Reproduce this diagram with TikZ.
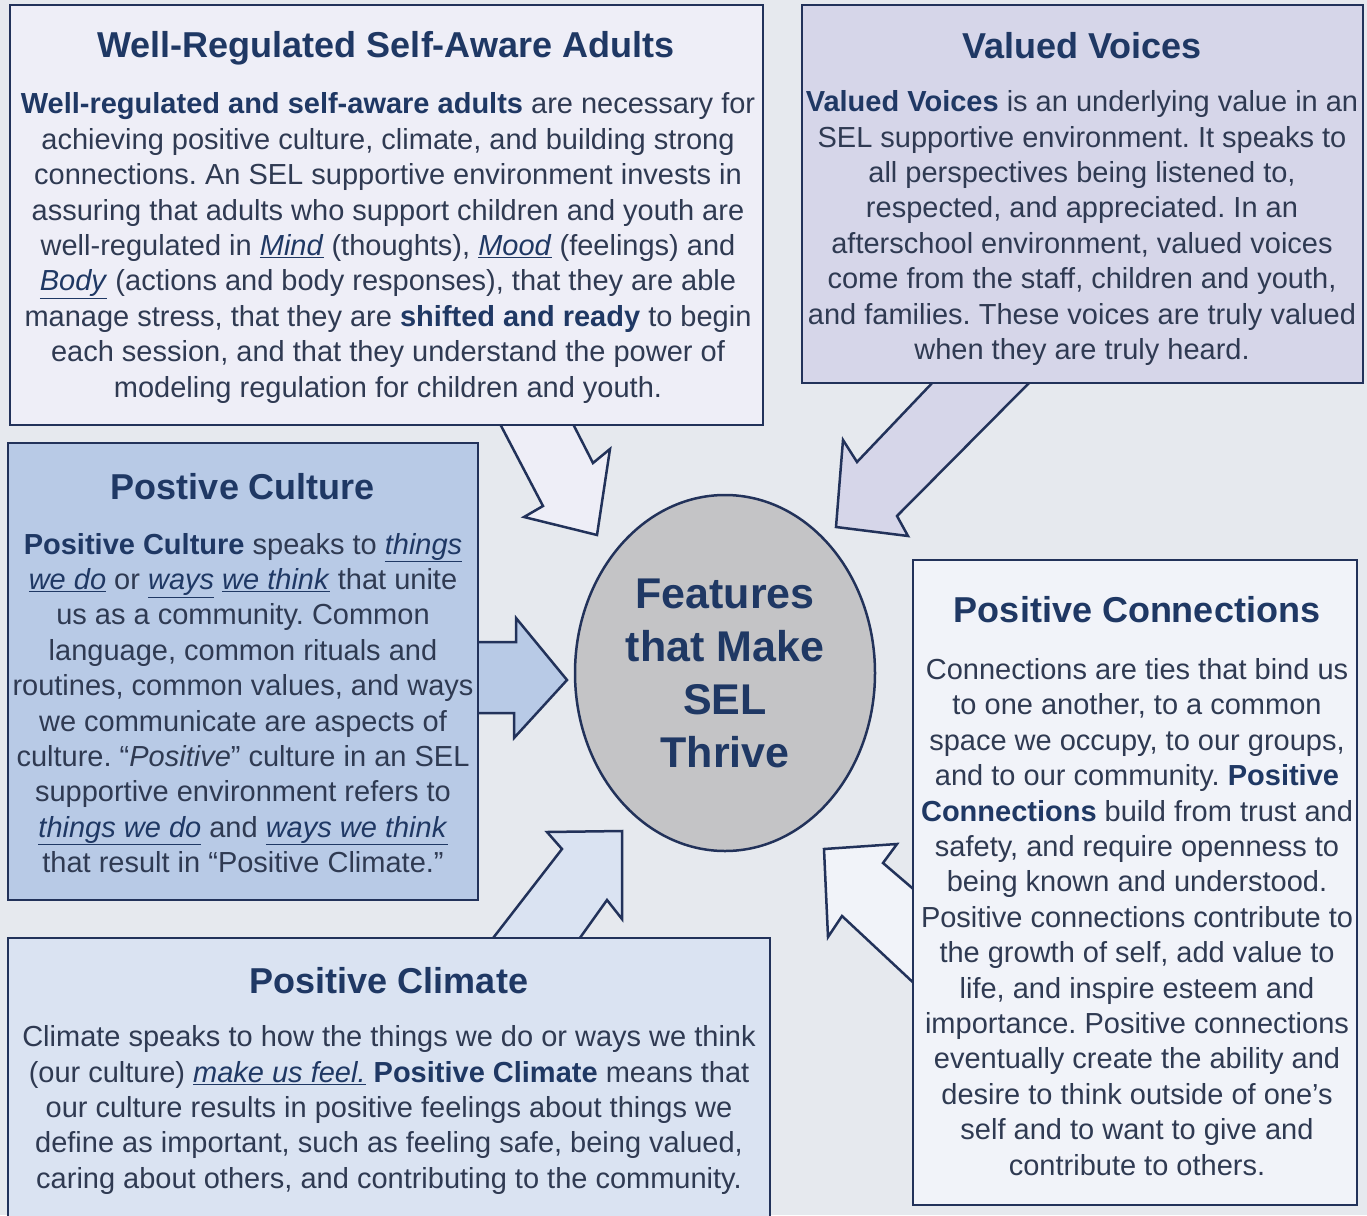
\documentclass[tikz,border=0pt]{standalone}
\usepackage{fontspec}
\setmainfont{Liberation Sans}
\usepackage{tikz}
\usetikzlibrary{calc,shapes.geometric}
\frenchspacing

\definecolor{bgcol}{HTML}{E6E9EE}
\definecolor{framecol}{HTML}{22325A}
\definecolor{headcol}{HTML}{1F3864}
\definecolor{textcol}{HTML}{2F3A52}
\definecolor{wrsafill}{HTML}{EEEEF7}
\definecolor{voicefill}{HTML}{D6D6E9}
\definecolor{culturefill}{HTML}{B8CAE6}
\definecolor{climatefill}{HTML}{DAE3F2}
\definecolor{connectfill}{HTML}{F1F3F9}
\definecolor{hubfill}{HTML}{C4C4C6}

\newcommand{\ulit}[1]{{\color{headcol}\underline{\textit{#1}}}}

\begin{document}
\begin{tikzpicture}[x=1pt,y=-1pt,
  panel/.style={draw=framecol,line width=2.5pt,inner sep=0pt},
  blockarrow/.style={draw=framecol,line width=2.5pt,line join=miter},
  title/.style={font=\fontsize{36}{40}\selectfont\bfseries,text=headcol,inner sep=0pt},
  body/.style={font=\fontsize{29}{35.4}\selectfont,text=textcol,align=center,inner sep=0pt}]
\useasboundingbox (0,0) rectangle (1367,1215);

% Background
\fill[bgcol] (0,0) rectangle (1367,1215);

% Block arrows pointing to the centre
\filldraw[blockarrow,fill=wrsafill] (498,420) -- (543,506) -- (524,517) -- (597,535) -- (610,449) -- (593,463) -- (571,420);
\filldraw[blockarrow,fill=voicefill] (1032,380) -- (897,516) -- (908,536) -- (836,527) -- (843,440) -- (857,462) -- (935,380);
\filldraw[blockarrow,fill=culturefill] (474,642) -- (516,642) -- (516,618) -- (567,680) -- (514,738) -- (514,713) -- (474,713);
\filldraw[blockarrow,fill=climatefill] (490,942) -- (562,849) -- (547,832) -- (622,831) -- (622,919) -- (607,900) -- (577,942);
\filldraw[blockarrow,fill=connectfill] (918,893) -- (883,863) -- (897,844) -- (824,849) -- (828,937) -- (842,916) -- (918,987);

% Boxes
\node[panel,fill=wrsafill,minimum width=753pt,minimum height=420pt] (wrsa) at (386.5,215) {};
\node[panel,fill=voicefill,minimum width=561pt,minimum height=378pt] (voices) at (1082.5,194) {};
\node[panel,fill=culturefill,minimum width=470pt,minimum height=457pt] (culture) at (243,671.5) {};
\node[panel,fill=climatefill,minimum width=762pt,minimum height=285pt] (climate) at (389,1080.5) {};
\node[panel,fill=connectfill,minimum width=444pt,minimum height=645pt] (connect) at (1135,882.5) {};

% Centre
\node[draw=framecol,line width=2.5pt,fill=hubfill,ellipse,minimum width=300pt,minimum height=356pt] (hub) at (725,673) {};
\node[font=\fontsize{43}{53}\selectfont\bfseries,text=headcol,align=center,inner sep=0pt] (hub-text) at (725,673) {Features\\that Make\\SEL\\Thrive};

% Well-regulated adults
\node[title] (wrsa-title) at (386,48) {Well-Regulated Self-Aware Adults};
\node[body] (wrsa-text) at (388,248) {\textbf{\color{headcol}Well-regulated and self-aware adults} are necessary for\\
achieving positive culture, climate, and building strong\\
connections. An SEL supportive environment invests in\\
assuring that adults who support children and youth are\\
well-regulated in \ulit{Mind} (thoughts), \ulit{Mood} (feelings) and\\
\ulit{Body} (actions and body responses), that they are able\\
manage stress, that they are \textbf{\color{headcol}shifted and ready} to begin\\
each session, and that they understand the power of\\
modeling regulation for children and youth.};

% Valued voices
\node[title] (voices-title) at (1082,46) {Valued Voices};
\node[body] (voices-text) at (1082,228) {\textbf{\color{headcol}Valued Voices} is an underlying value in an\\
SEL supportive environment. It speaks to\\
all perspectives being listened to,\\
respected, and appreciated. In an\\
afterschool environment, valued voices\\
come from the staff, children and youth,\\
and families. These voices are truly valued\\
when they are truly heard.};

% Positive culture
\node[title] (culture-title) at (243,487) {Postive Culture};
\node[body] (culture-text) at (243,703) {\textbf{\color{headcol}Positive Culture} speaks to \ulit{things}\\
\ulit{we do} or \ulit{ways} \ulit{we think} that unite\\
us as a community. Common\\
language, common rituals and\\
routines, common values, and ways\\
we communicate are aspects of\\
culture. “\textit{Positive}” culture in an SEL\\
supportive environment refers to\\
\ulit{things we do} and \ulit{ways we think}\\
that result in “Positive Climate.”};

% Positive climate
\node[title] (climate-title) at (389,981) {Positive Climate};
\node[body] (climate-text) at (389,1110) {Climate speaks to how the things we do or ways we think\\
(our culture) \ulit{make us feel.} \textbf{\color{headcol}Positive Climate} means that\\
our culture results in positive feelings about things we\\
define as important, such as feeling safe, being valued,\\
caring about others, and contributing to the community.};

% Positive connections
\node[title] (connect-title) at (1137,610) {Positive Connections};
\node[body] (connect-text) at (1137,917) {Connections are ties that bind us\\
to one another, to a common\\
space we occupy, to our groups,\\
and to our community. \textbf{\color{headcol}Positive}\\
\textbf{\color{headcol}Connections} build from trust and\\
safety, and require openness to\\
being known and understood.\\
Positive connections contribute to\\
the growth of self, add value to\\
life, and inspire esteem and\\
importance. Positive connections\\
eventually create the ability and\\
desire to think outside of one’s\\
self and to want to give and\\
contribute to others.};
\end{tikzpicture}
\end{document}
